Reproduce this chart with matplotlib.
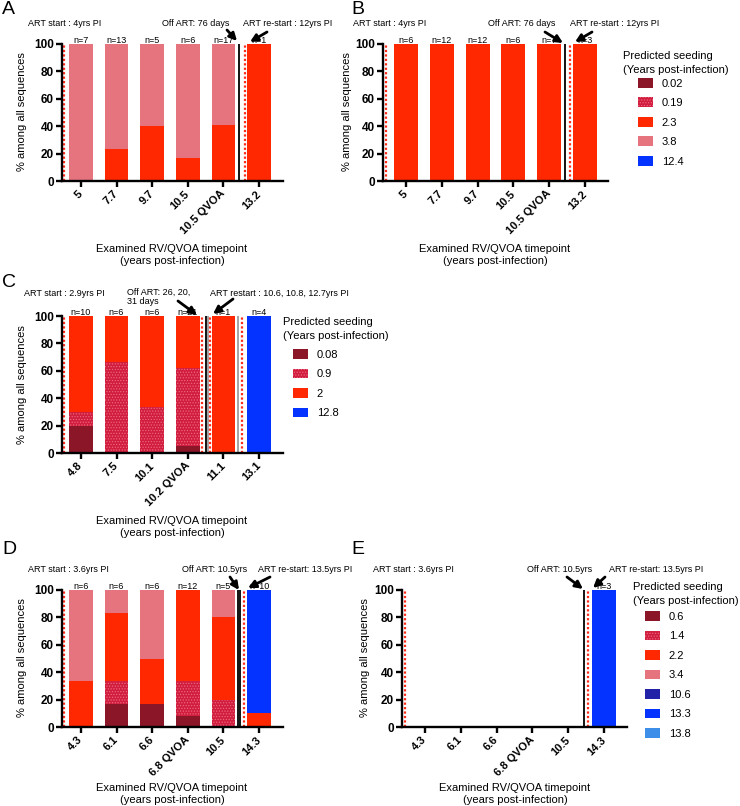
import matplotlib
matplotlib.use("Agg")
import matplotlib.pyplot as plt
from matplotlib.patches import Patch

plt.rcParams['font.family'] = ['Liberation Sans', 'DejaVu Sans']
plt.rcParams['hatch.color'] = '#EE6C86'
plt.rcParams['hatch.linewidth'] = 0.5

W, H = 740, 806

# ---- data (percent of sequences per predicted seeding time) ----
a_ticks = ['5', '7.7', '9.7', '10.5', '10.5 QVOA', '13.2']
a_n = ['n=7', 'n=13', 'n=5', 'n=6', 'n=17', 'n=1']
a_seed = ['0.02', '0.19', '2.3', '3.8', '12.4']
a_s002 = [0, 0, 0, 0, 0, 0]
a_s019 = [0, 0, 0, 0, 0, 0]
a_s23 = [0, 23, 40, 17, 41, 100]
a_s38 = [100, 77, 60, 83, 59, 0]
a_s124 = [0, 0, 0, 0, 0, 0]

b_ticks = ['5', '7.7', '9.7', '10.5', '10.5 QVOA', '13.2']
b_n = ['n=6', 'n=12', 'n=12', 'n=6', 'n=7', 'n=3']
b_s002 = [0, 0, 0, 0, 0, 0]
b_s019 = [0, 0, 0, 0, 0, 0]
b_s23 = [100, 100, 100, 100, 100, 100]
b_s38 = [0, 0, 0, 0, 0, 0]
b_s124 = [0, 0, 0, 0, 0, 0]

c_ticks = ['4.8', '7.5', '10.1', '10.2 QVOA', '11.1', '13.1']
c_n = ['n=10', 'n=6', 'n=6', 'n=21', 'n=1', 'n=4']
c_seed = ['0.08', '0.9', '2', '12.8']
c_s008 = [20, 0, 0, 4.8, 0, 0]
c_s09 = [10, 66.7, 33.3, 57.1, 0, 0]
c_s2 = [70, 33.3, 66.7, 38.1, 100, 0]
c_s128 = [0, 0, 0, 0, 0, 100]

d_ticks = ['4.3', '6.1', '6.6', '6.8 QVOA', '10.5', '14.3']
d_n = ['n=6', 'n=6', 'n=6', 'n=12', 'n=5', 'n=10']
e_seed = ['0.6', '1.4', '2.2', '3.4', '10.6', '13.3', '13.8']
d_s06 = [0, 16.7, 16.7, 8.3, 0, 0]
d_s14 = [0, 16.7, 0, 25, 20, 0]
d_s22 = [33.3, 50, 33.3, 66.7, 60, 10]
d_s34 = [66.7, 16.7, 50, 0, 20, 0]
d_s106 = [0, 0, 0, 0, 0, 0]
d_s133 = [0, 0, 0, 0, 0, 90]
d_s138 = [0, 0, 0, 0, 0, 0]

e_n = ['', '', '', '', '', 'n=3']
e_s06 = [0, 0, 0, 0, 0, 0]
e_s14 = [0, 0, 0, 0, 0, 0]
e_s22 = [0, 0, 0, 0, 0, 0]
e_s34 = [0, 0, 0, 0, 0, 0]
e_s106 = [0, 0, 0, 0, 0, 0]
e_s133 = [0, 0, 0, 0, 0, 100]
e_s138 = [0, 0, 0, 0, 0, 0]

# ---- colours ----
DARK = '#8A1628'
DOT = '#D21E3E'
RED = '#FF2800'
PINK = '#E6747F'
NAVY = '#2222A8'
BLUE = '#0433FF'
LBLUE = '#3D8EE8'
SEP_RED = '#FF2A1A'

fig = plt.figure(figsize=(W / 100, H / 100), dpi=100)


def px_axes(l, t, w, h):
    return fig.add_axes([l / W, 1 - (t + h) / H, w / W, h / H])


def ftext(x, y, s, **kw):
    fig.text(x / W, 1 - y / H, s, **kw)


def arrow(ax, x0, y0, x1, y1):
    ax.annotate('', xy=(x1, H - y1), xycoords='figure pixels',
                xytext=(x0, H - y0), textcoords='figure pixels',
                annotation_clip=False,
                arrowprops=dict(arrowstyle='-|>', color='black', lw=2,
                                mutation_scale=11, shrinkA=0, shrinkB=0))


def draw_panel(ax, ticks, nlab, series, colors, xlim):
    x = list(range(len(ticks)))
    bottom = [0] * len(x)
    for vals, c in zip(series, colors):
        if c == DOT:
            ax.bar(x, vals, 0.67, bottom=bottom, color=DOT, hatch='......', linewidth=0)
        else:
            ax.bar(x, vals, 0.67, bottom=bottom, color=c, linewidth=0)
        bottom = [b + v for b, v in zip(bottom, vals)]
    for xi, s in zip(x, nlab):
        if s:
            ax.text(xi, 99, s, ha='center', va='bottom', fontsize=6.5)
    ax.set_xlim(*xlim)
    ax.set_ylim(0, 100)
    ax.set_yticks([0, 20, 40, 60, 80, 100])
    ax.set_xticks(x)
    ax.set_xticklabels(ticks, rotation=45, ha='right', va='center',
                       rotation_mode='anchor', fontsize=8, fontweight='bold')
    for lab in ax.get_yticklabels():
        lab.set_fontweight('bold')
        lab.set_fontsize(8.5)
    for sp in ['top', 'right']:
        ax.spines[sp].set_visible(False)
    for sp in ['left', 'bottom']:
        ax.spines[sp].set_linewidth(1.7)
    ax.tick_params(axis='both', direction='out', length=4, width=1.7, pad=2)
    ax.tick_params(axis='x', pad=4)
    ax.axvline(xlim[0] + 0.07, color=SEP_RED, lw=1.6, ls=(0, (1, 1)))


def seps(ax, items):
    for xv, kind in items:
        if kind == 'red':
            ax.axvline(xv, color=SEP_RED, lw=1.6, ls=(0, (1, 1)))
        elif kind == 'black':
            ax.axvline(xv, color='black', lw=1.3)
        else:
            ax.axvline(xv, color='#8a8a8a', lw=1.1)


def legend(ax, labels, colors, tx, ty, hx, hy):
    ftext(tx, ty, 'Predicted seeding\n(Years post-infection)', fontsize=8,
          va='top', ha='left', linespacing=1.45)
    handles = []
    for lab, c in zip(labels, colors):
        if c == DOT:
            handles.append(Patch(facecolor=DOT, hatch='......', linewidth=0, label=lab))
        else:
            handles.append(Patch(facecolor=c, linewidth=0, label=lab))
    ax.legend(handles=handles, loc='upper left', bbox_to_anchor=(hx / W, 1 - hy / H),
              bbox_transform=fig.transFigure, frameon=False, fontsize=8,
              handlelength=1.35, handleheight=0.95, handletextpad=0.8,
              labelspacing=0.8, borderpad=0, borderaxespad=0)


XL_L = (-0.53, 5.67)
XL_R = (-0.64, 5.64)

# ---- panel A ----
axA = px_axes(62, 44, 221, 137)
draw_panel(axA, a_ticks, a_n, [a_s002, a_s019, a_s23, a_s38, a_s124],
           [DARK, DOT, RED, PINK, BLUE], XL_L)
seps(axA, [(4.44, 'black'), (4.61, 'red')])
ftext(2, 9, 'A', fontsize=14, va='center')
ftext(28, 24, 'ART start : 4yrs PI', fontsize=6.5, va='center')
ftext(162, 24, 'Off ART: 76 days', fontsize=6.5, va='center')
ftext(243, 24, 'ART re-start : 12yrs PI', fontsize=6.5, va='center')
arrow(axA, 227, 30, 237, 41)
arrow(axA, 267, 32, 250, 42)
ftext(22, 112, '% among all sequences', fontsize=8, rotation=90, ha='center', va='center')
ftext(172, 255, 'Examined RV/QVOA timepoint\n(years post-infection)', fontsize=8,
      ha='center', va='center', linespacing=1.3)

# ---- panel B ----
axB = px_axes(383, 44, 225, 137)
draw_panel(axB, b_ticks, b_n, [b_s002, b_s019, b_s23, b_s38, b_s124],
           [DARK, DOT, RED, PINK, BLUE], XL_R)
seps(axB, [(4.44, 'black'), (4.58, 'red')])
ftext(351, 9, 'B', fontsize=14, va='center')
ftext(353, 24, 'ART start : 4yrs PI', fontsize=6.5, va='center')
ftext(488, 24, 'Off ART: 76 days', fontsize=6.5, va='center')
ftext(570, 24, 'ART re-start : 12yrs PI', fontsize=6.5, va='center')
arrow(axB, 545, 32, 563, 43)
arrow(axB, 592, 32, 575, 42)
ftext(347, 112, '% among all sequences', fontsize=8, rotation=90, ha='center', va='center')
ftext(495, 255, 'Examined RV/QVOA timepoint\n(years post-infection)', fontsize=8,
      ha='center', va='center', linespacing=1.3)
legend(axB, a_seed, [DARK, DOT, RED, PINK, BLUE], 623, 51, 638, 78)

# ---- panel C ----
axC = px_axes(62, 316, 221, 137)
draw_panel(axC, c_ticks, c_n, [c_s008, c_s09, c_s2, c_s128],
           [DARK, DOT, RED, BLUE], XL_L)
seps(axC, [(3.41, 'red'), (3.50, 'black'), (3.555, 'gray'), (3.62, 'red'),
           (4.42, 'gray'), (4.52, 'red')])
ftext(2, 282, 'C', fontsize=14, va='center')
ftext(24, 293, 'ART start : 2.9yrs PI', fontsize=6.5, va='center')
ftext(127, 288, 'Off ART: 26, 20,\n31 days', fontsize=6.5, va='top', linespacing=1.0)
ftext(210, 293, 'ART restart : 10.6, 10.8, 12.7yrs PI', fontsize=6.5, va='center')
arrow(axC, 178, 301, 197, 315)
arrow(axC, 233, 299, 213, 314)
ftext(22, 385, '% among all sequences', fontsize=8, rotation=90, ha='center', va='center')
ftext(172, 527, 'Examined RV/QVOA timepoint\n(years post-infection)', fontsize=8,
      ha='center', va='center', linespacing=1.3)
legend(axC, c_seed, [DARK, DOT, RED, BLUE], 283, 317, 293, 349)

# ---- panel D ----
axD = px_axes(62, 590, 221, 137)
draw_panel(axD, d_ticks, d_n, [d_s06, d_s14, d_s22, d_s34, d_s106, d_s133, d_s138],
           [DARK, DOT, RED, PINK, NAVY, BLUE, LBLUE], XL_L)
seps(axD, [(4.41, 'black'), (4.47, 'black'), (4.58, 'red')])
ftext(2, 550, 'D', fontsize=14, va='center')
ftext(28, 570, 'ART start : 3.6yrs PI', fontsize=6.5, va='center')
ftext(182, 570, 'Off ART: 10.5yrs', fontsize=6.5, va='center')
ftext(258, 570, 'ART re-start: 13.5yrs PI', fontsize=6.5, va='center')
arrow(axD, 230, 577, 239, 590)
arrow(axD, 270, 577, 248, 588)
ftext(22, 658, '% among all sequences', fontsize=8, rotation=90, ha='center', va='center')
ftext(172, 794, 'Examined RV/QVOA timepoint\n(years post-infection)', fontsize=8,
      ha='center', va='center', linespacing=1.3)

# ---- panel E ----
axE = px_axes(402, 590, 225, 137)
draw_panel(axE, d_ticks, e_n, [e_s06, e_s14, e_s22, e_s34, e_s106, e_s133, e_s138],
           [DARK, DOT, RED, PINK, NAVY, BLUE, LBLUE], XL_R)
seps(axE, [(4.44, 'black'), (4.55, 'red')])
ftext(351, 550, 'E', fontsize=14, va='center')
ftext(373, 570, 'ART start : 3.6yrs PI', fontsize=6.5, va='center')
ftext(527, 570, 'Off ART: 10.5yrs', fontsize=6.5, va='center')
ftext(609, 570, 'ART re-start: 13.5yrs PI', fontsize=6.5, va='center')
arrow(axE, 567, 577, 583, 589)
arrow(axE, 605, 577, 593, 588)
ftext(365, 658, '% among all sequences', fontsize=8, rotation=90, ha='center', va='center')
ftext(515, 794, 'Examined RV/QVOA timepoint\n(years post-infection)', fontsize=8,
      ha='center', va='center', linespacing=1.3)
legend(axE, e_seed, [DARK, DOT, RED, PINK, NAVY, BLUE, LBLUE], 633, 582, 645, 611)

fig.savefig('out.png', dpi=100)
